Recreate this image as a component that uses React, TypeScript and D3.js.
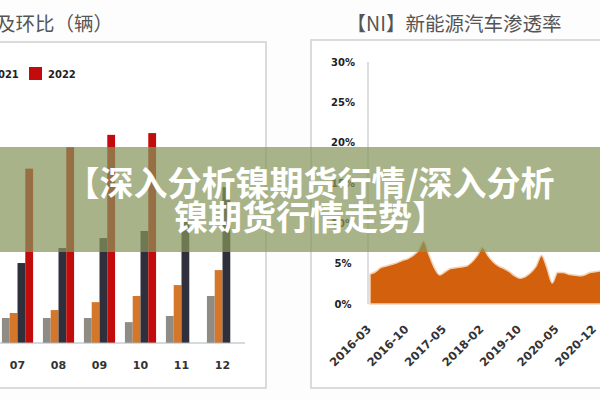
import React, { useEffect, useRef } from "react"
import * as d3 from "d3"

// left panel: monthly NEV sales (10k units), one array per year
const months = ["07", "08", "09", "10", "11", "12"]
const years = ["2019", "2020", "2021", "2022"]
const sales2019 = [8.5, 8.5, 8.5, 7.1, 9.2, 16.0]
const sales2020 = [10.2, 11.2, 13.9, 16.0, 19.7, 24.8]
const sales2021 = [27.2, 32.3, 35.7, 38.1, 41.2, 53.0]
const sales2022 = [59.3, 66.6, 70.8, 71.4, null, null]
const yearColors = ["#8e8c84", "#d4772a", "#30303c", "#c20b0b"]

// right panel: penetration rate (%), one value per month
const rateValues = [
  3.7, 4.0, 4.5, 4.7, 4.9, 5.1, 5.4, 5.6, 6.0, 6.6, 7.8, 6.1, 4.5, 3.6, 4.0,
  4.4, 4.5, 4.6, 4.7, 5.2, 6.0, 7.0, 6.0, 5.2, 4.7, 4.4, 4.0, 3.5, 3.2, 3.4,
  3.9, 4.7, 6.0, 4.5, 2.6, 3.9, 3.9, 3.7, 3.6, 3.5, 3.6, 3.9, 4.0, 4.1, 4.2
]
const rateTickLabels = ["2016-03", "2016-10", "2017-05", "2018-02", "2019-10", "2020-05", "2020-12"]
const rateTickEvery = 7
const rateYTicks = [0, 5, 10, 15, 20, 25, 30]

const width = 600
const height = 400

export default function App() {
  const ref = useRef<SVGSVGElement>(null)

  useEffect(() => {
    const svg = d3.select(ref.current)
    svg.selectAll("*").remove()

    svg.append("rect").attr("width", width).attr("height", height).attr("fill", "#fdfdfd")

    // ---------- left panel ----------
    const left = svg.append("g")
    left
      .append("text")
      .attr("x", 113)
      .attr("y", 31)
      .attr("text-anchor", "end")
      .attr("font-family", "Noto Sans CJK SC")
      .attr("font-size", 19.5)
      .attr("fill", "#555")
      .text("新能源汽车销量同比及环比（辆）")

    left
      .append("rect")
      .attr("x", -10)
      .attr("y", 42)
      .attr("width", 276)
      .attr("height", 346)
      .attr("fill", "#fff")
      .attr("stroke", "#cfcfcf")
      .attr("stroke-width", 1.5)

    const series = [sales2019, sales2020, sales2021, sales2022]

    const x0 = d3.scaleBand().domain(months).range([-3, 243]).paddingInner(0.24).paddingOuter(0.12)
    const x1 = d3.scaleBand().domain(years).range([0, x0.bandwidth()])
    const yL = d3.scaleLinear().domain([0, 80]).range([343, 343 - 80 * 2.94])

    // legend (earlier items run off the left edge, only the last two show)
    const legend = left.append("g").attr("transform", "translate(29,67)")
    years.forEach((yr, i) => {
      const off = (i - 3) * 57
      if (off < -60) return
      legend
        .append("rect")
        .attr("x", off)
        .attr("width", 13)
        .attr("height", 13)
        .attr("fill", yearColors[i])
      legend
        .append("text")
        .attr("x", off + 19)
        .attr("y", 10.5)
        .attr("font-family", "DejaVu Sans")
        .attr("font-weight", "bold")
        .attr("font-size", 10)
        .attr("fill", "#222")
        .text(yr)
    })

    months.forEach((m, mi) => {
      series.forEach((vals, si) => {
        const v = vals[mi]
        if (v == null) return
        left
          .append("rect")
          .attr("x", (x0(m) ?? 0) + (x1(years[si]) ?? 0))
          .attr("y", yL(v))
          .attr("width", x1.bandwidth())
          .attr("height", yL(0) - yL(v))
          .attr("fill", yearColors[si])
      })
    })

    left
      .append("line")
      .attr("x1", -10)
      .attr("x2", 245)
      .attr("y1", yL(0))
      .attr("y2", yL(0))
      .attr("stroke", "#a9b4bd")
      .attr("stroke-width", 1)

    const xAxisL = d3.axisBottom(x0).tickSize(0).tickPadding(18)
    left
      .append("g")
      .attr("transform", `translate(0 ${yL(0)})`)
      .call(xAxisL)
      .call(g => g.select(".domain").remove())
      .selectAll("text")
      .attr("font-family", "DejaVu Sans")
      .attr("font-weight", "bold")
      .attr("font-size", 11)
      .attr("fill", "#333")

    // ---------- right panel ----------
    const right = svg.append("g")
    right
      .append("text")
      .attr("x", 454)
      .attr("y", 31)
      .attr("text-anchor", "middle")
      .attr("font-family", "Noto Sans CJK SC")
      .attr("font-size", 19.5)
      .attr("fill", "#555")
      .text("【NI】新能源汽车渗透率")

    right
      .append("rect")
      .attr("x", 311)
      .attr("y", 40)
      .attr("width", 310)
      .attr("height", 348)
      .attr("fill", "#fff")
      .attr("stroke", "#cfcfcf")
      .attr("stroke-width", 1.5)

    const xR = d3
      .scaleLinear()
      .domain([0, rateValues.length - 1])
      .range([370, 370 + 5.36 * (rateValues.length - 1)])
    const yR = d3.scaleLinear().domain([0, 30]).range([304, 62])

    const area = d3
      .area<number>()
      .x((_, i) => xR(i))
      .y0(yR(0))
      .y1(d => yR(d))
      .curve(d3.curveMonotoneX)

    right
      .append("path")
      .attr("d", area(rateValues))
      .attr("fill", "#d2600c")
      .attr("stroke", "#f2d2b4")
      .attr("stroke-width", 1.5)

    right
      .append("line")
      .attr("x1", 368)
      .attr("x2", 368)
      .attr("y1", yR(30))
      .attr("y2", yR(0))
      .attr("stroke", "#bdbdbd")

    const yAxisR = d3
      .axisLeft(yR)
      .tickValues(rateYTicks)
      .tickSize(0)
      .tickFormat(d => `${d}%`)
    right
      .append("g")
      .attr("transform", "translate(343 0)")
      .call(yAxisR)
      .call(g => g.select(".domain").remove())
      .selectAll("text")
      .attr("text-anchor", "middle")
      .attr("x", 0)
      .attr("font-family", "DejaVu Sans")
      .attr("font-weight", "bold")
      .attr("font-size", 10)
      .attr("fill", "#222")

    right
      .append("g")
      .selectAll("text")
      .data(rateTickLabels)
      .enter()
      .append("text")
      .attr("transform", (_, i) => `translate(${xR(i * rateTickEvery) - 1} 327) rotate(-45)`)
      .attr("text-anchor", "end")
      .attr("dy", "0.35em")
      .attr("font-family", "DejaVu Sans")
      .attr("font-weight", "bold")
      .attr("font-size", 11.5)
      .attr("fill", "#333")
      .text(d => d)

    // ---------- banner overlay ----------
    const banner = svg.append("g")
    banner
      .append("rect")
      .attr("x", 0)
      .attr("y", 147)
      .attr("width", width)
      .attr("height", 105)
      .attr("fill", "rgb(134,149,92)")
      .attr("opacity", 0.72)

    const lines = ["【深入分析镍期货行情/深入分析", "镍期货行情走势】"]
    lines.forEach((t, i) => {
      banner
        .append("text")
        .attr("x", 310)
        .attr("y", 196 + i * 34)
        .attr("text-anchor", "middle")
        .attr("font-family", "Noto Sans CJK SC")
        .attr("font-weight", 700)
        .attr("font-size", 34)
        .attr("fill", "#fff")
        .text(t)
    })
  }, [])

  return (
    <svg
      ref={ref}
      width={width}
      height={height}
      style={{ position: "absolute", left: 0, top: 0, display: "block" }}
    />
  )
}
